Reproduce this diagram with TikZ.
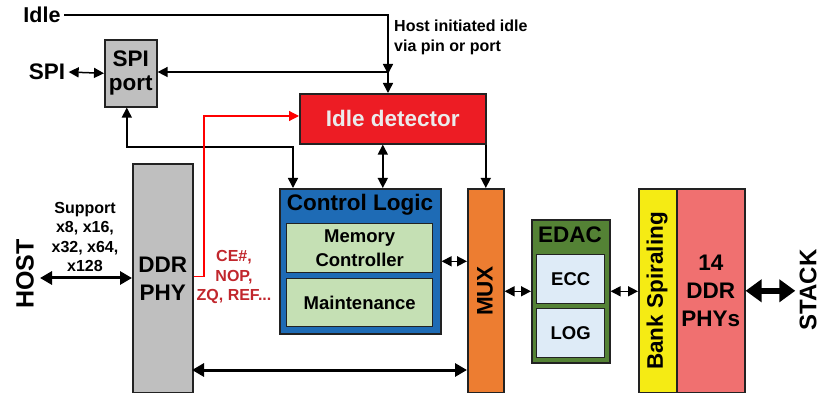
\documentclass[tikz,border=0pt]{standalone}
\usepackage{fontspec}
\setmainfont{Liberation Sans}
\usetikzlibrary{arrows.meta,calc}
\definecolor{spigray}{HTML}{BFBFBF}
\definecolor{idlered}{HTML}{ED1C24}
\definecolor{ctrlblue}{HTML}{1E6BB5}
\definecolor{lightgreen}{HTML}{C5E0B4}
\definecolor{muxorange}{HTML}{ED7D31}
\definecolor{edacgreen}{HTML}{548235}
\definecolor{lightblue}{HTML}{DEEBF7}
\definecolor{bankyellow}{HTML}{F5EB14}
\definecolor{physred}{HTML}{F07070}
\definecolor{cmdred}{HTML}{C1272D}
\definecolor{edge}{HTML}{222222}
\begin{document}
\begin{tikzpicture}[x=1pt,y=-1pt,
  blk/.style={draw=edge, line width=1.6pt, inner sep=0pt, anchor=north west, align=center},
  inblk/.style={draw=edge, line width=1.4pt, inner sep=0pt, anchor=north west, align=center},
  fa/.style={font=\bfseries\fontsize{16}{19.5}\selectfont},
  fb/.style={font=\bfseries\fontsize{18.5}{24}\selectfont},
  fc/.style={font=\bfseries\fontsize{22.5}{28}\selectfont},
  fd/.style={font=\bfseries\fontsize{25}{30}\selectfont},
  arr/.style={line width=1.5pt, -{Triangle[length=10pt,width=10pt]}},
  dbl/.style={line width=1.5pt, {Triangle[length=10pt,width=10pt]}-{Triangle[length=10pt,width=10pt]}},
  thickdbl/.style={line width=3pt, {Triangle[length=12pt,width=13pt]}-{Triangle[length=12pt,width=13pt]}},
  heavydbl/.style={line width=6.5pt, {Triangle[length=16pt,width=22pt]}-{Triangle[length=16pt,width=22pt]}},
]
\useasboundingbox (0,0) rectangle (823,393);

% blocks
\node[blk, fill=spigray, minimum width=52pt, minimum height=67pt, fc] (spi) at (104,39) {SPI\\[-4pt]port};
\node[blk, fill=idlered, minimum width=186pt, minimum height=50pt, fc, text=white!92!black] (idet) at (299,93) {Idle detector};
\node[blk, fill=spigray, minimum width=60pt, minimum height=229pt, fc] (ddr) at (132,163) {DDR\\PHY};
\node[blk, fill=ctrlblue, minimum width=161pt, minimum height=145pt] (ctrl) at (279,188) {};
\node[inblk, fill=lightgreen, minimum width=146pt, minimum height=49pt, fb] (memc) at (286,223) {Memory\\Controller};
\node[inblk, fill=lightgreen, minimum width=146pt, minimum height=48pt, fb] (maint) at (286,278) {Maintenance};
\node[blk, fill=muxorange, minimum width=36pt, minimum height=204pt] (mux) at (467,188) {};
\node[blk, fill=edacgreen, minimum width=78pt, minimum height=143pt] (edac) at (531,219) {};
\node[inblk, fill=lightblue, minimum width=68pt, minimum height=49pt, fb] (ecc) at (536,254) {ECC};
\node[inblk, fill=lightblue, minimum width=68pt, minimum height=49pt, fb] (log) at (536,308) {LOG};
\node[blk, fill=bankyellow, minimum width=38pt, minimum height=204pt] (bank) at (638,188) {};
\node[blk, fill=physred, minimum width=68pt, minimum height=204pt, fc] (phys) at (676,188) {14\\DDR\\PHYs};

% titles and labels
\node[fc] (ctrltitle) at (360,205) {Control Logic};
\node[fc] (edactitle) at (570,235) {EDAC};
\node[fc, rotate=90] (muxlabel) at (485,291) {MUX};
\node[fc, rotate=90] (banklabel) at (657,291) {Bank Spiraling};
\node[font=\bfseries\fontsize{21.5}{26}\selectfont] (idle) at (42,15) {Idle};
\node[fc] (spitxt) at (47,72) {SPI};
\node[fd, rotate=90] (host) at (25,274) {HOST};
\node[font=\bfseries\fontsize{24}{28}\selectfont, rotate=90, inner sep=0pt] (stack) at (808,290) {STACK};
\node[fa, align=center] (support) at (85,237) {Support\\x8, x16,\\x32, x64,\\x128};
\node[fa, align=center, text=cmdred] (cmds) at (234,277) {CE\#,\\NOP,\\ZQ, REF...};
\node[fa, align=left, anchor=north west, inner sep=0pt] (hosttxt) at (394,20) {Host initiated idle\\via pin or port};

% idle request and SPI port links
\coordinate (jn) at (388,72);
\draw[arr] (idle.east) -| ([yshift=-2pt]jn);
\draw[arr] (jn) -- (jn -| spi.east);
\draw[arr] (jn) -- (jn |- idet.north);
\draw[dbl] (spitxt.east) -- (spi.west);

\coordinate (sb) at ([xshift=-4pt]spi.south);
\coordinate (k1) at (293,147);
\draw[dbl] (sb) |- (k1) -- (k1 |- ctrl.north);

\coordinate (a1) at ([xshift=-10pt]idet.south);
\draw[dbl] (a1) -- (a1 |- ctrl.north);
\draw[arr] (mux.north |- idet.south) -- (mux.north);

% command snoop from the DDR PHY
\coordinate (r1) at (204,116);
\draw[arr, draw=red, color=red, line width=1.2pt] ([yshift=2pt]ddr.east) -| (r1) -- (r1 -| idet.west);

% data path
\coordinate (hl) at (40,278);
\draw[thickdbl] (hl) -- (hl -| ddr.west);
\draw[dbl] (ctrl.east) -- (ctrl.east -| mux.west);
\coordinate (b1) at (192,370);
\draw[thickdbl] (b1) -- (b1 -| mux.west);
\draw[dbl] (mux.east |- edac.west) -- (edac.west);
\draw[dbl] (edac.east) -- (edac.east -| bank.west);
\draw[heavydbl] (phys.east) -- ([xshift=-4pt]phys.east -| stack.north);
\end{tikzpicture}
\end{document}
